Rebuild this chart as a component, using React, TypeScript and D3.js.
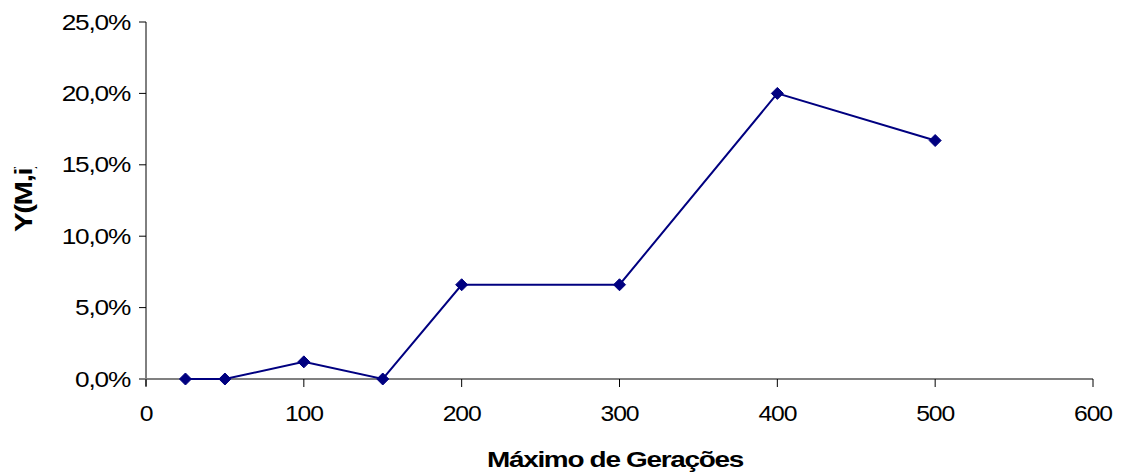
import React, { useEffect, useRef } from "react";
import * as d3 from "d3";

const xValues = [25, 50, 100, 150, 200, 300, 400, 500];
const yValues = [0, 0, 0.012, 0, 0.066, 0.066, 0.2, 0.167];
const xTicks = [0, 100, 200, 300, 400, 500, 600];
const yTicks = [0, 0.05, 0.1, 0.15, 0.2, 0.25];
const xTitle = "Máximo de Gerações";
const yTitle = "Y(M,i)";

const W = 1123;
const H = 472;

export default function App() {
  const ref = useRef<SVGSVGElement>(null);
  useEffect(() => {
    const svg = d3.select(ref.current);
    svg.selectAll("*").remove();
    const x = d3.scaleLinear().domain([0, 600]).range([146, 1093]);
    const y = d3.scaleLinear().domain([0, 0.25]).range([379, 22]);
    const font = "Arial, 'Liberation Sans', sans-serif";
    const fmt = (v: number) => (v * 100).toFixed(1).replace(".", ",") + "%";

    const defs = svg.append("defs");
    defs.append("clipPath").attr("id", "ytclip")
      .append("rect").attr("x", 0).attr("y", 167).attr("width", 60).attr("height", 120);

    // y axis
    svg.append("line").attr("x1", 146).attr("x2", 146).attr("y1", y(0.25)).attr("y2", 386)
      .attr("stroke", "#000").attr("stroke-width", 1);
    yTicks.forEach((t) => {
      svg.append("line").attr("x1", 139).attr("x2", 146).attr("y1", y(t)).attr("y2", y(t))
        .attr("stroke", "#000").attr("stroke-width", 1);
      svg.append("text")
        .attr("transform", `translate(130,${y(t) + 7.5}) scale(1.22,1)`)
        .attr("text-anchor", "end").attr("font-family", font).attr("font-size", 21.5)
        .attr("letter-spacing", -1)
        .attr("fill", "#000").text(fmt(t));
    });

    // x axis
    svg.append("line").attr("x1", 139).attr("x2", 1093).attr("y1", y(0)).attr("y2", y(0))
      .attr("stroke", "#808080").attr("stroke-width", 2);
    xTicks.forEach((t) => {
      svg.append("line").attr("x1", x(t)).attr("x2", x(t)).attr("y1", 379).attr("y2", 387)
        .attr("stroke", "#000").attr("stroke-width", 1);
      svg.append("text")
        .attr("transform", `translate(${x(t)},421) scale(1.15,1)`)
        .attr("text-anchor", "middle").attr("font-family", font).attr("font-size", 21.5)
        .attr("letter-spacing", -1)
        .attr("fill", "#000").text(String(t));
    });

    // titles
    svg.append("text")
      .attr("transform", `translate(615,467) scale(1.3,1)`)
      .attr("text-anchor", "middle").attr("font-family", font).attr("font-size", 21.5)
      .attr("letter-spacing", -1)
      .attr("font-weight", "bold").attr("fill", "#000").text(xTitle);
    svg.append("g").attr("clip-path", "url(#ytclip)")
      .append("text")
      .attr("transform", `translate(32,232) rotate(-90) scale(1.4,1.1)`)
      .attr("text-anchor", "start").attr("font-family", font).attr("font-size", 21)
      .attr("letter-spacing", -1)
      .attr("font-weight", "bold").attr("fill", "#000").text(yTitle);

    // line
    const data = xValues.map((v, i) => [v, yValues[i]] as [number, number]);
    const line = d3.line<[number, number]>().x((d) => x(d[0])).y((d) => y(d[1]));
    svg.append("path").datum(data).attr("d", line).attr("fill", "none")
      .attr("stroke", "#000080").attr("stroke-width", 2);
    const s = 6;
    svg.selectAll("path.m").data(data).enter().append("path").attr("class", "m")
      .attr("d", (d) => {
        const cx = x(d[0]), cy = y(d[1]);
        return `M${cx},${cy - s}L${cx + s},${cy}L${cx},${cy + s}L${cx - s},${cy}Z`;
      })
      .attr("fill", "#000080").attr("stroke", "#000080").attr("stroke-width", 1);
  }, []);
  return (
    <svg ref={ref} width={W} height={H}
      style={{ position: "absolute", left: 0, top: 0, background: "#fff" }} />
  );
}
